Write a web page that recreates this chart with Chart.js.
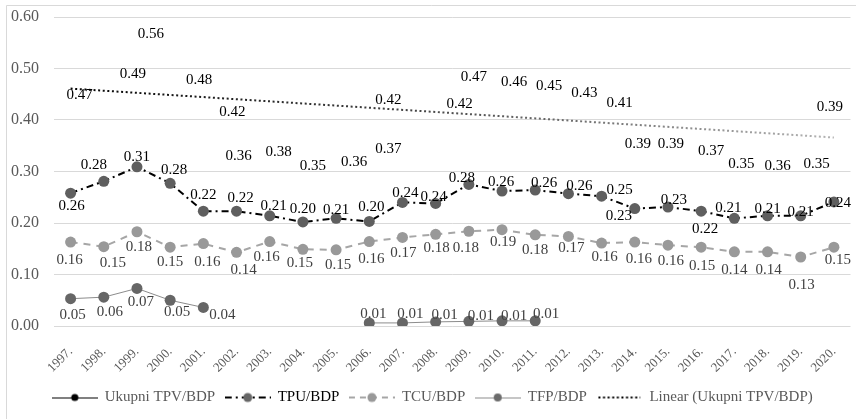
<!DOCTYPE html>
<html><head><meta charset="utf-8">
<script src="https://cdn.jsdelivr.net/npm/chart.js@4.4.0/dist/chart.umd.min.js"></script>
<style>html,body{margin:0;padding:0;background:#fff;}#wrap{width:856px;height:419px;position:relative;}</style>
</head><body><div id="wrap"><canvas id="c" width="856" height="419"></canvas></div>
<script>
// ---------- DATA ----------
const categories = ['1997.','1998.','1999.','2000.','2001.','2002.','2003.','2004.','2005.','2006.','2007.','2008.','2009.','2010.','2011.','2012.','2013.','2014.','2015.','2016.','2017.','2018.','2019.','2020.'];
const ukupni = [0.47,0.49,0.56,0.48,0.42,0.36,0.38,0.35,0.36,0.37,0.42,0.42,0.47,0.46,0.45,0.43,0.41,0.39,0.39,0.37,0.35,0.36,0.35,0.39];
const tpu = [0.258,0.281,0.309,0.277,0.223,0.223,0.214,0.202,0.209,0.203,0.240,0.238,0.275,0.262,0.264,0.257,0.252,0.228,0.231,0.223,0.209,0.214,0.214,0.241];
const tcu = [0.163,0.154,0.183,0.153,0.160,0.143,0.164,0.149,0.148,0.164,0.172,0.178,0.184,0.187,0.177,0.174,0.161,0.163,0.157,0.153,0.144,0.144,0.134,0.153];
const tfp = [0.053,0.056,0.073,0.050,0.036,null,null,null,null,0.006,0.006,0.008,0.009,0.010,0.010,null,null,null,null,null,null,null,null,null];
const trendEnds = [0.461,0.366];
const yTicks = [0.00,0.10,0.20,0.30,0.40,0.50,0.60];
const seriesNames = ['Ukupni TPV/BDP','TPU/BDP','TCU/BDP','TFP/BDP','Linear (Ukupni TPV/BDP)'];

// ---------- LABEL PLACEMENT (pixel offsets from each point) ----------
const offUk = [[9,11],[29,0],[14,-4],[29,1],[29,2],[2,15],[9,22],[10,20],[18,21],[19,14],[-14,-10],[24,-6],[5,-7],[12,-7],[14,-8],[16,-11],[18,-12],[3,19],[3,19],[10,16],[7,18],[10,25],[16,18],[-4,-18]];
const offTpu = [[1,13],[-10,-16],[0,-10],[4,-13],[0,-16],[4,-13],[4,-10],[0,-13],[0,-8],[2,-14],[3,-9],[-2,-6],[-7,-6],[-1,-9],[9,-7],[11,-8],[18,-6],[-16,7],[6,-7],[4,18],[-6,-10],[0,-7],[0,-4],[4,1]];
const offTcu = [[-1,18],[9,16],[2,15],[0,15],[4,18],[7,18],[-3,16],[-3,14],[2,15],[2,18],[1,16],[1,14],[-3,17],[1,12],[0,15],[3,12],[3,14],[4,17],[3,16],[1,19],[0,18],[1,18],[1,28],[4,13]];
const offTfp = [[2,16],[6,15],[4,14],[7,12],[19,8],null,null,null,null,[4,-9],[8,-9],[9,-7],[12,-5],[12,-5],[11,-7]];

const SERIF = '"Liberation Serif", "Times New Roman", serif';

function icon(draw){
  const c = document.createElement('canvas'); c.width = 46; c.height = 14;
  const g = c.getContext('2d'); draw(g); return c;
}
function dot(g, r, col){ g.setLineDash([]); g.beginPath(); g.arc(23,7,r,0,Math.PI*2); g.fillStyle=col; g.fill(); }
const icons = [
  icon(g=>{ g.strokeStyle='#000'; g.lineWidth=1; g.beginPath(); g.moveTo(0,7.5); g.lineTo(46,7.5); g.stroke(); dot(g,3.6,'#000'); }),
  icon(g=>{ g.strokeStyle='#000'; g.lineWidth=2; g.setLineDash([7,4,2,4]); g.beginPath(); g.moveTo(0,7); g.lineTo(46,7); g.stroke(); dot(g,4.5,'#666'); }),
  icon(g=>{ g.strokeStyle='#a6a6a6'; g.lineWidth=2; g.setLineDash([6,5]); g.beginPath(); g.moveTo(0,7); g.lineTo(46,7); g.stroke(); dot(g,4.5,'#999'); }),
  icon(g=>{ g.strokeStyle='#8c8c8c'; g.lineWidth=1; g.beginPath(); g.moveTo(0,7.5); g.lineTo(46,7.5); g.stroke(); dot(g,4,'#6b6b6b'); }),
  icon(g=>{ g.strokeStyle='#000'; g.lineWidth=2; g.setLineDash([2,2.6]); g.beginPath(); g.moveTo(2,7); g.lineTo(44,7); g.stroke(); })
];
const legendColors = ['#595959','#000000','#595959','#595959','#595959'];

const labelPlugin = {
  id: 'valueLabels',
  afterDatasetsDraw(chart){
    const ctx = chart.ctx;
    chart.data.datasets.forEach((ds, di) => {
      if (!ds.labelOffsets) return;
      const meta = chart.getDatasetMeta(di);
      ctx.save();
      ctx.font = '15px ' + SERIF;
      ctx.fillStyle = ds.labelColor;
      ctx.textAlign = 'center';
      ctx.textBaseline = 'middle';
      meta.data.forEach((pt, i) => {
        const v = ds.data[i];
        const o = ds.labelOffsets[i];
        if (v == null || !o) return;
        ctx.fillText(v.toFixed(2), pt.x + o[0], pt.y + o[1]);
      });
      ctx.restore();
    });
  }
};
const framePlugin = {
  id: 'frame',
  beforeDraw(chart){
    const ctx = chart.ctx;
    ctx.save();
    ctx.fillStyle = '#fff'; ctx.fillRect(0,0,chart.width,chart.height);
    ctx.strokeStyle = '#d9d9d9'; ctx.lineWidth = 1;
    ctx.beginPath(); ctx.moveTo(6.5, chart.height); ctx.lineTo(6.5, 5.5); ctx.lineTo(chart.width, 5.5); ctx.stroke();
    ctx.restore();
  }
};

const trendData = categories.map((_, i) => i === 0 ? trendEnds[0] : (i === categories.length - 1 ? trendEnds[1] : null));

new Chart(document.getElementById('c'), {
  type: 'line',
  data: {
    labels: categories,
    datasets: [
      { label: seriesNames[0], data: ukupni, borderColor: 'rgba(0,0,0,0)', backgroundColor: 'rgba(0,0,0,0)', pointRadius: 0, borderWidth: 0, showLine: false,
        labelOffsets: offUk, labelColor: '#000' },
      { label: seriesNames[1], data: tpu, borderColor: '#000', borderWidth: 2, borderDash: [7,4,2,4], pointRadius: 5.5, pointBackgroundColor: '#5f5f5f', pointBorderColor: '#5f5f5f', pointBorderWidth: 0, tension: 0,
        labelOffsets: offTpu, labelColor: '#000' },
      { label: seriesNames[2], data: tcu, borderColor: '#a6a6a6', borderWidth: 2, borderDash: [7,6], pointRadius: 5.5, pointBackgroundColor: '#999', pointBorderColor: '#999', pointBorderWidth: 0, tension: 0,
        labelOffsets: offTcu, labelColor: '#404040' },
      { label: seriesNames[3], data: tfp, borderColor: '#8c8c8c', borderWidth: 1, pointRadius: 5.5, pointBackgroundColor: '#666', pointBorderColor: '#666', pointBorderWidth: 0, spanGaps: false, tension: 0,
        labelOffsets: offTfp, labelColor: '#404040' },
      { label: seriesNames[4], data: trendData, spanGaps: true, pointRadius: 0, borderWidth: 2, borderDash: [2,2.6], borderCapStyle: 'butt',
        borderColor(ctx){ const ca = ctx.chart.chartArea; if (!ca) return '#000'; const g = ctx.chart.ctx.createLinearGradient(ca.left,0,ca.right,0); g.addColorStop(0,'#000'); g.addColorStop(0.45,'#444'); g.addColorStop(1,'#b8b8b8'); return g; } }
    ]
  },
  options: {
    responsive: false,
    animation: false,
    devicePixelRatio: 1,
    layout: { padding: { left: 9, right: 0, top: 17, bottom: 4 } },
    plugins: {
      tooltip: { enabled: false },
      legend: {
        position: 'bottom',
        labels: {
          usePointStyle: true, pointStyleWidth: 45, boxHeight: 15, padding: 10,
          font: { family: SERIF, size: 15 }, color: '#595959',
          generateLabels(chart){
            return chart.data.datasets.map((ds, i) => ({ text: ds.label, pointStyle: icons[i], fontColor: legendColors[i], fillStyle: 'rgba(0,0,0,0)', strokeStyle: 'rgba(0,0,0,0)', lineWidth: 0, hidden: false, datasetIndex: i }));
          }
        }
      }
    },
    scales: {
      x: {
        type: 'category', offset: true,
        grid: { display: false, drawTicks: false },
        border: { display: false },
        ticks: { autoSkip: false, minRotation: 45, maxRotation: 45, padding: 18, color: '#595959', font: { family: SERIF, size: 13 } },
        afterFit(s){ s.height = 54; s.paddingLeft = 0; s.paddingRight = 0; s.paddingTop = 0; s.paddingBottom = 0; }
      },
      y: {
        min: 0, max: 0.6,
        afterBuildTicks(s){ s.ticks = yTicks.map(v => ({ value: v })); },
        grid: { color: '#d9d9d9', drawTicks: false, lineWidth: 1 },
        border: { display: false },
        ticks: { padding: 15, color: '#595959', font: { family: SERIF, size: 16 }, callback: v => Number(v).toFixed(2) },
        afterFit(s){ s.width = 45; s.paddingTop = 0; s.paddingBottom = 0; s.paddingLeft = 0; s.paddingRight = 0; }
      }
    }
  },
  plugins: [framePlugin, labelPlugin]
});
</script></body></html>
